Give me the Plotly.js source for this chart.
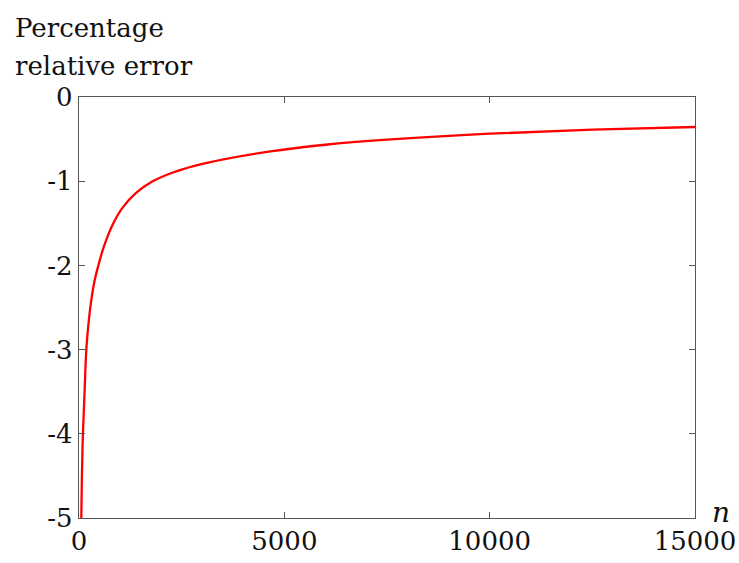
<!DOCTYPE html>
<html>
<head>
<meta charset="utf-8">
<script src="https://cdn.plot.ly/plotly-3.0.1.min.js"></script>
<style>html,body{margin:0;padding:0;background:#fff;}#chart{width:739px;height:563px;}</style>
</head>
<body>
<div id="chart"></div>
<script>
// Sample sizes n
var nValues = [56, 71, 95, 136, 178, 240, 300, 380, 460, 605, 810, 1053, 1376, 1782, 2268, 2835, 3520, 4660, 6000, 7500, 10000, 12500, 15000];
// Percentage relative error
var errorValues = [-5, -4.5, -4, -3.5, -3, -2.65, -2.41, -2.18, -2.02, -1.778, -1.526, -1.32, -1.145, -1.005, -0.9, -0.815, -0.74, -0.646, -0.567, -0.507, -0.436, -0.388, -0.356];

var xTickVals = [0, 5000, 10000, 15000];
var xTickText = ['0', '5000', '10000', '15000'];
var yTickVals = [-5, -4, -3, -2, -1, 0];
var yTickText = ['-5', '-4', '-3', '-2', '-1', '0'];

var serif = 'DejaVu Serif';
var fontSize = 26;

var trace = {
  x: nValues,
  y: errorValues,
  type: 'scatter',
  mode: 'lines',
  line: {color: '#ff0000', width: 2.3, shape: 'spline', smoothing: 1.0},
  hoverinfo: 'skip'
};

var axisCommon = {
  showline: true,
  linecolor: '#555555',
  linewidth: 1.2,
  mirror: 'ticks',
  ticks: 'inside',
  ticklen: 6,
  tickwidth: 1.2,
  tickcolor: '#555555',
  showgrid: false,
  zeroline: false,
  tickmode: 'array',
  tickfont: {family: serif, size: fontSize, color: '#111111'}
};

var layout = {
  width: 739,
  height: 563,
  margin: {l: 78.5, r: 43.5, t: 97.3, b: 44.7},
  paper_bgcolor: '#ffffff',
  plot_bgcolor: '#ffffff',
  showlegend: false,
  font: {family: serif, size: fontSize, color: '#111111'},
  xaxis: Object.assign({}, axisCommon, {
    range: [0, 15000],
    tickvals: xTickVals,
    ticktext: xTickText
  }),
  yaxis: Object.assign({}, axisCommon, {
    range: [-5, 0],
    tickvals: yTickVals,
    ticktext: yTickText
  }),
  annotations: [
    {
      text: 'Percentage',
      xref: 'paper', yref: 'paper',
      x: -0.107, y: 1.1646,
      xanchor: 'left', yanchor: 'middle',
      showarrow: false,
      font: {family: serif, size: fontSize, color: '#111111'}
    },
    {
      text: 'relative error',
      xref: 'paper', yref: 'paper',
      x: -0.107, y: 1.0743,
      xanchor: 'left', yanchor: 'middle',
      showarrow: false,
      font: {family: serif, size: fontSize, color: '#111111'}
    },
    {
      text: '<i>n</i>',
      xref: 'paper', yref: 'paper',
      x: 1.025, y: 0.012,
      xanchor: 'left', yanchor: 'middle',
      showarrow: false,
      font: {family: serif, size: fontSize + 2, color: '#111111'}
    }
  ]
};

Plotly.newPlot('chart', [trace], layout, {displayModeBar: false, staticPlot: true});
</script>
</body>
</html>
